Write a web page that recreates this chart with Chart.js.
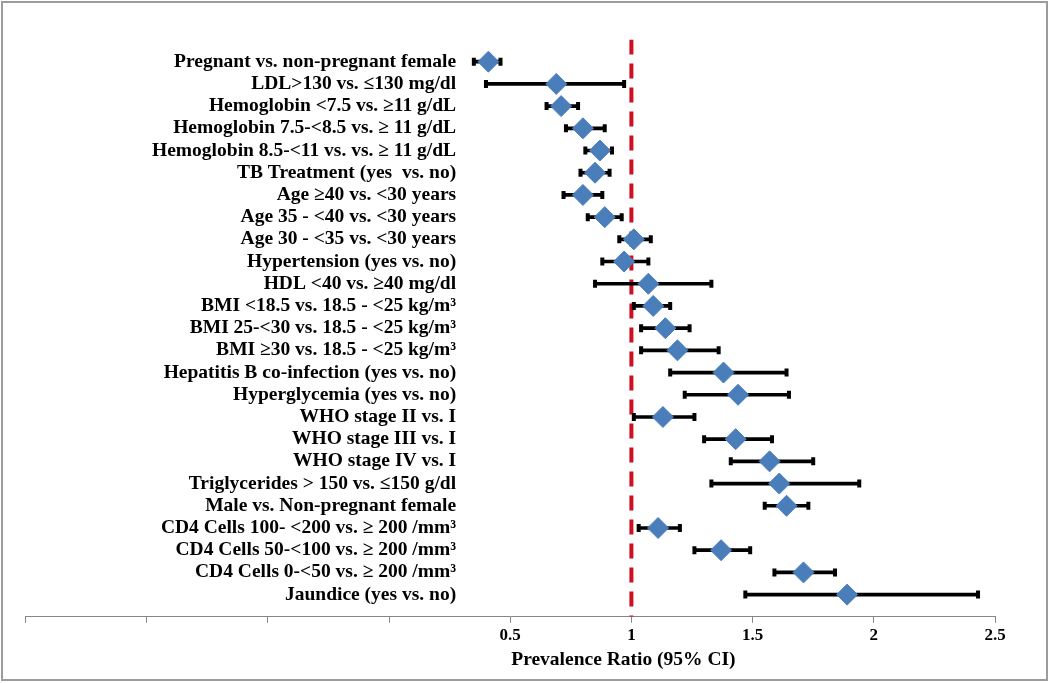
<!DOCTYPE html>
<html>
<head>
<meta charset="utf-8">
<script src="https://cdn.jsdelivr.net/npm/chart.js@4/dist/chart.umd.min.js"></script>
<style>
  html, body { margin: 0; padding: 0; background: #fff; }
  #wrap { position: relative; width: 1050px; height: 683px; overflow: hidden; }
  #c { position: absolute; left: 0; top: 0; }
  #frame { position: absolute; left: 1px; top: 1px; width: 1047px; height: 680px; box-sizing: border-box; border: 2px solid #9c9c9c; pointer-events: none; }
</style>
</head>
<body>
<div id="wrap">
  <canvas id="c" width="1050" height="683"></canvas>
  <div id="frame"></div>
</div>
<script>
const categories = [
  "Pregnant vs. non-pregnant female",
  "LDL>130 vs. \u2264130 mg/dl",
  "Hemoglobin <7.5 vs. \u226511 g/dL",
  "Hemoglobin 7.5-<8.5 vs. \u2265 11 g/dL",
  "Hemoglobin 8.5-<11 vs. vs. \u2265 11 g/dL",
  "TB Treatment (yes  vs. no)",
  "Age \u226540 vs. <30 years",
  "Age 35 - <40 vs. <30 years",
  "Age 30 - <35 vs. <30 years",
  "Hypertension (yes vs. no)",
  "HDL <40 vs. \u226540 mg/dl",
  "BMI <18.5 vs. 18.5 - <25 kg/m\u00B3",
  "BMI 25-<30 vs. 18.5 - <25 kg/m\u00B3",
  "BMI \u226530 vs. 18.5 - <25 kg/m\u00B3",
  "Hepatitis B co-infection (yes vs. no)",
  "Hyperglycemia (yes vs. no)",
  "WHO stage II vs. I",
  "WHO stage III vs. I",
  "WHO stage IV vs. I",
  "Triglycerides > 150 vs. \u2264150 g/dl",
  "Male vs. Non-pregnant female",
  "CD4 Cells 100- <200 vs. \u2265 200 /mm\u00B3",
  "CD4 Cells 50-<100 vs. \u2265 200 /mm\u00B3",
  "CD4 Cells 0-<50 vs. \u2265 200 /mm\u00B3",
  "Jaundice (yes vs. no)"
];
const ratio = [0.41, 0.69, 0.71, 0.80, 0.87, 0.85, 0.80, 0.89, 1.01, 0.97, 1.07, 1.09, 1.14, 1.19, 1.38, 1.44, 1.13, 1.43, 1.57, 1.61, 1.64, 1.11, 1.37, 1.71, 1.89];
const lower = [0.35, 0.40, 0.65, 0.73, 0.81, 0.79, 0.72, 0.82, 0.95, 0.88, 0.85, 1.01, 1.04, 1.04, 1.16, 1.22, 1.01, 1.30, 1.41, 1.33, 1.55, 1.03, 1.26, 1.59, 1.47];
const upper = [0.46, 0.97, 0.78, 0.89, 0.92, 0.91, 0.88, 0.96, 1.08, 1.07, 1.33, 1.16, 1.24, 1.36, 1.64, 1.65, 1.26, 1.58, 1.75, 1.94, 1.73, 1.20, 1.49, 1.84, 2.43];
const xTickValues = [-1.5, -1, -0.5, 0, 0.5, 1, 1.5, 2, 2.5];
const xTickLabels = ["", "", "", "", "0.5", "1", "1.5", "2", "2.5"];
const referenceValue = 1;
const xTitle = "Prevalence Ratio (95% CI)";

const serif = "'Liberation Serif', 'Times New Roman', serif";

const diamondData = ratio.map((v, i) => ({ x: v, y: i }));
const barData = categories.map((c, i) => ({ y: i, x: [lower[i], upper[i]] }));
const capData = [];
categories.forEach((c, i) => { capData.push({ x: lower[i], y: i }); capData.push({ x: upper[i], y: i }); });

const titlePlugin = {
  id: 'xTitle',
  afterDraw(chart) {
    const ctx = chart.ctx;
    const xs = chart.scales.x;
    ctx.save();
    ctx.font = "bold 19.5px " + serif;
    ctx.fillStyle = '#000';
    ctx.textAlign = 'center';
    ctx.textBaseline = 'middle';
    ctx.fillText(xTitle, xs.getPixelForValue(0.967), 660);
    ctx.restore();
  }
};

new Chart(document.getElementById('c'), {
  type: 'scatter',
  data: {
    datasets: [
      {
        label: 'Ratio',
        data: diamondData,
        pointStyle: 'rectRot',
        pointRadius: 10.5,
        pointHoverRadius: 10.5,
        backgroundColor: '#4A7EBB',
        borderColor: '#4A7EBB',
        borderWidth: 1,
        order: 0
      },
      {
        label: 'Caps',
        data: capData,
        pointStyle: 'line',
        rotation: 90,
        pointRadius: 4,
        pointHoverRadius: 4,
        borderColor: '#000',
        borderWidth: 4,
        order: 1
      },
      {
        type: 'bar',
        label: 'CI',
        indexAxis: 'y',
        data: barData,
        backgroundColor: '#000',
        borderWidth: 0,
        barThickness: 3,
        order: 2
      },
      {
        label: 'Ref',
        data: [{ x: referenceValue, y: -1 }, { x: referenceValue, y: categories.length }],
        showLine: true,
        pointRadius: 0,
        borderColor: '#CC1020',
        borderWidth: 4,
        borderDash: [15, 9],
        order: 3
      }
    ]
  },
  options: {
    responsive: false,
    animation: false,
    devicePixelRatio: 1,
    layout: { autoPadding: false, padding: { left: 25.4, right: 55, top: 39.5, bottom: 33.8 } },
    plugins: { legend: { display: false }, tooltip: { enabled: false }, title: { display: false } },
    scales: {
      x: {
        type: 'linear',
        position: 'bottom',
        offset: false,
        min: xTickValues[0],
        max: xTickValues[xTickValues.length - 1],
        afterBuildTicks(scale) { scale.ticks = xTickValues.map(v => ({ value: v })); },
        grid: { display: true, offset: false, drawOnChartArea: false, drawTicks: true, tickLength: 6, color: '#868686', lineWidth: 1 },
        border: { display: true, color: '#868686', width: 1 },
        ticks: {
          padding: 3,
          autoSkip: false,
          maxRotation: 0,
          color: '#000',
          font: { family: serif, size: 17, weight: 'bold' },
          callback(value, index) { return xTickLabels[index]; }
        }
      },
      y: {
        type: 'linear',
        position: { x: 0.2769 },
        reverse: true,
        offset: false,
        min: -1,
        max: categories.length,
        afterBuildTicks(scale) {
          const t = [{ value: -1 }];
          categories.forEach((c, i) => t.push({ value: i }));
          t.push({ value: categories.length });
          scale.ticks = t;
        },
        afterFit(scale) {
          scale.paddingTop = 0;
          scale.paddingBottom = 0;
        },
        grid: { display: false, offset: false, drawTicks: false },
        border: { display: false },
        ticks: {
          padding: 0,
          autoSkip: false,
          color: '#000',
          font: { family: serif, size: 19.5, weight: 'bold' },
          callback(value) { return categories[value] !== undefined ? categories[value] : null; }
        }
      }
    }
  },
  plugins: [titlePlugin]
});
</script>
</body>
</html>
